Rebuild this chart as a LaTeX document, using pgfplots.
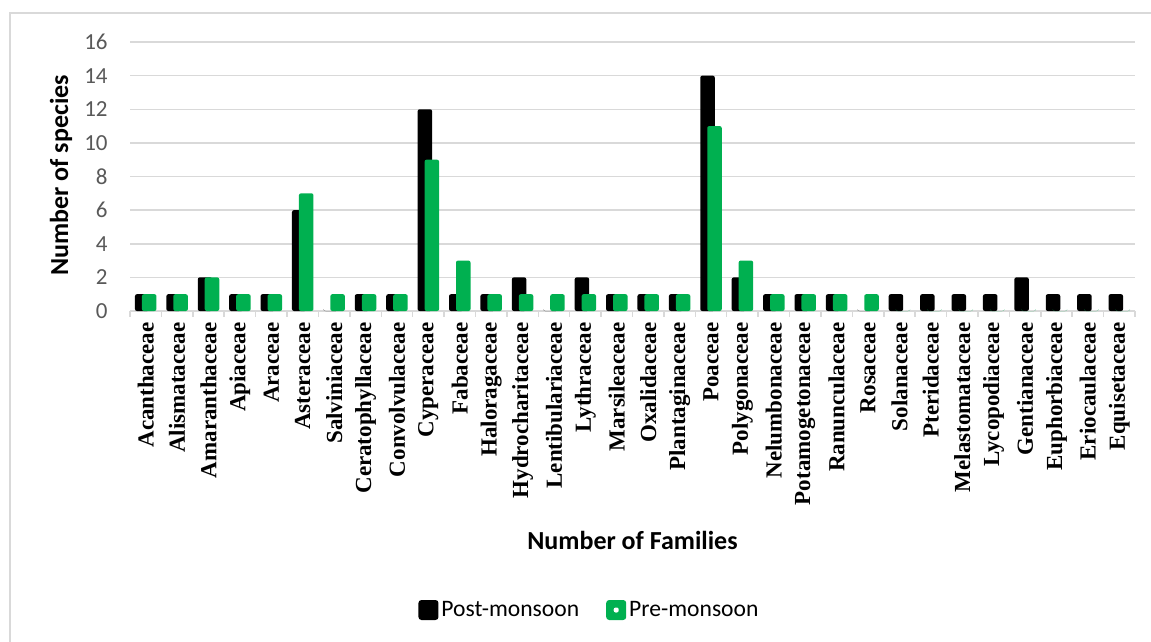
\documentclass[border=0pt]{standalone}
\usepackage{pgfplots}
\pgfplotsset{compat=1.18}
\usepackage{fontspec}
\setmainfont{Liberation Serif}
\newfontfamily\carlito{Carlito}

\definecolor{pregreen}{HTML}{00B050}
\definecolor{gridgray}{HTML}{D9D9D9}
\definecolor{tickgray}{HTML}{595959}

% Species counts per family: post-monsoon and pre-monsoon
\pgfplotstableread{
idx post pre
0  1  1
1  1  1
2  2  2
3  1  1
4  1  1
5  6  7
6  0  1
7  1  1
8  1  1
9  12 9
10 1  3
11 1  1
12 2  1
13 0  1
14 2  1
15 1  1
16 1  1
17 1  1
18 14 11
19 2  3
20 1  1
21 1  1
22 1  1
23 0  1
24 1  0
25 1  0
26 1  0
27 1  0
28 2  0
29 1  0
30 1  0
31 1  0
}\speciesdata

\begin{document}
\begin{tikzpicture}
\useasboundingbox (0pt,0pt) rectangle (575.5pt,-321pt);
% chart area border
\draw[gridgray, line width=1pt] (5pt,-321pt) -- (5pt,-6.5pt) -- (575.5pt,-6.5pt);
\begin{axis}[
  at={(65pt,-155.5pt)}, anchor=south west,
  scale only axis, width=502.5pt, height=134.5pt,
  ymin=0, ymax=16, ytick={0,2,...,16},
  xmin=-0.5, xmax=31.5,
  xtick={0,...,31},
  xticklabels={Acanthaceae,Alismataceae,Amaranthaceae,Apiaceae,Araceae,Asteraceae,Salviniaceae,Ceratophyllaceae,Convolvulaceae,Cyperaceae,Fabaceae,Haloragaceae,Hydrocharitaceae,Lentibulariaceae,Lythraceae,Marsileaceae,Oxalidaceae,Plantaginaceae,Poaceae,Polygonaceae,Nelumbonaceae,Potamogetonaceae,Ranunculaceae,Rosaceae,Solanaceae,Pteridaceae,Melastomataceae,Lycopodiaceae,Gentianaceae,Euphorbiaceae,Eriocaulaceae,Equisetaceae},
  minor xtick={-0.5,0.5,...,31.5},
  major tick length=0pt, minor tick length=2.75pt, tick align=outside,
  minor tick style={gridgray, line width=0.75pt},
  axis x line*=bottom, axis y line*=left,
  x axis line style={gridgray, line width=0.75pt},
  y axis line style={draw=none},
  ymajorgrids, major grid style={gridgray, line width=0.75pt},
  /pgf/number format/assume math mode=true,
  yticklabel style={font=\carlito\fontsize{11.5}{12}\selectfont, text=tickgray, anchor=east, inner sep=0pt, xshift=-11pt},
  xticklabel style={font=\bfseries\fontsize{11.5}{12}\selectfont, rotate=90, anchor=east, inner xsep=5.5pt, inner ysep=0pt},
  xlabel={Number of Families},
  xlabel style={at={(axis description cs:0.5,-0.8513)}, anchor=center, font=\carlito\bfseries\fontsize{13}{15}\selectfont},
  ylabel={Number of species},
  ylabel style={at={(axis description cs:-0.0687,0.504)}, anchor=center, font=\carlito\bfseries\fontsize{13}{15}\selectfont},
  ybar, bar width=0.462,
  legend style={at={(0.4577,-1.1115)}, anchor=center, legend columns=2, draw=none,
    font=\carlito\fontsize{11.8}{13}\selectfont, inner sep=0pt,
    nodes={inner sep=1.5pt},
    /tikz/every even column/.append style={column sep=12pt}},
  legend cell align=left,
]
\addplot[fill=black, draw=none, rounded corners=1pt, bar shift=-0.111,
  legend image code/.code={\fill[black, rounded corners=1.5pt] (0pt,-5pt) rectangle (10pt,5pt);}]
  table[x=idx, y=post] {\speciesdata};
\addlegendentry{Post-monsoon}
\addplot[fill=pregreen, draw=none, rounded corners=1pt, bar shift=0.111,
  legend image code/.code={\fill[pregreen, rounded corners=1.5pt] (0pt,-5pt) rectangle (10pt,5pt);
    \fill[white] (3.75pt,-1.25pt) rectangle (6.25pt,1.25pt);}]
  table[x=idx, y=pre] {\speciesdata};
\addlegendentry{Pre-monsoon}
\end{axis}
\end{tikzpicture}
\end{document}
